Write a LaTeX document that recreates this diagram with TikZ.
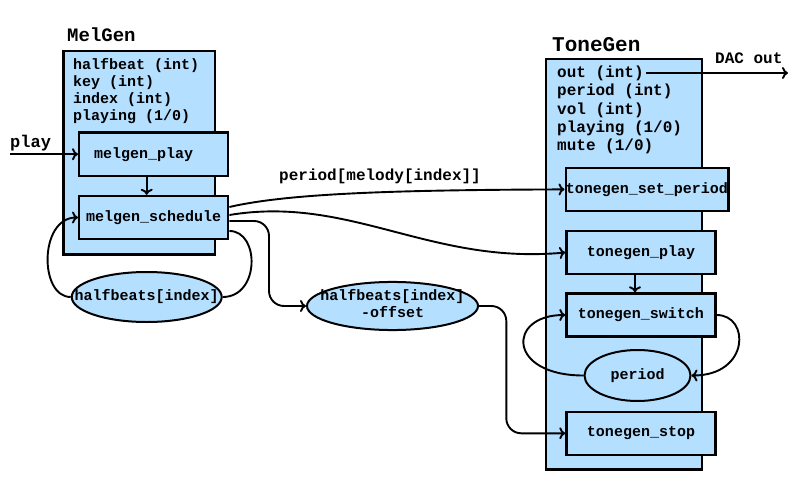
\documentclass[tikz,border=0pt]{standalone}
\usepackage{fontspec}
\setmonofont{Liberation Mono}
\usetikzlibrary{arrows.meta,shapes.geometric}
\definecolor{boxblue}{RGB}{180,223,255}
\tikzset{
  txt/.style={font=\ttfamily\bfseries\fontsize{15}{17}\selectfont},
  container/.style={draw,line width=2.4pt,fill=boxblue,inner sep=0pt},
  func/.style={draw,line width=2.4pt,fill=boxblue,inner sep=0pt,minimum width=149pt,minimum height=43pt,txt},
  var/.style={ellipse,draw,line width=2pt,fill=boxblue,inner sep=0pt,txt},
  conn/.style={line width=1.9pt,-{To[length=6pt,width=12pt]}},
  wire/.style={line width=1.9pt},
  title/.style={font=\ttfamily\bfseries\fontsize{19}{21}\selectfont,inner sep=0pt,anchor=base west},
  lbl/.style={font=\ttfamily\bfseries\fontsize{16}{18}\selectfont,inner sep=0pt,anchor=base west},
  attrs/.style={inner sep=0pt,anchor=base west},
}
\begin{document}
\begin{tikzpicture}[x=1pt,y=-1pt]
\useasboundingbox (0,0) rectangle (800,500);
% containers
\node[container,minimum width=151.7pt,minimum height=203.3pt] (melgen) at (139.2,152.7) {};
\node[container,minimum width=156pt,minimum height=410.3pt] (tonegen) at (624,264.2) {};
\node[title] (melgentitle) at (67,42) {MelGen};
\node[title,font=\ttfamily\bfseries\fontsize{21}{23}\selectfont] (tonegentitle) at (552,52) {ToneGen};
\node[attrs,font=\ttfamily\bfseries\fontsize{15}{16.7}\selectfont] (melvars) at (73,70)
  {\begin{tabular}[t]{@{}l@{}}halfbeat (int)\\key (int)\\index (int)\\playing (1/0)\end{tabular}};
\node[attrs,font=\ttfamily\bfseries\fontsize{16}{18.3}\selectfont] (tonevars) at (557,77.5)
  {\begin{tabular}[t]{@{}l@{}}out (int)\\period (int)\\vol (int)\\playing (1/0)\\mute (1/0)\end{tabular}};
% functions
\node[func] (mplay) at (153.7,154.2) {\hspace*{-20pt}melgen\_play};
\node[func] (msched) at (153.7,217.5) {melgen\_schedule};
\node[func,minimum width=162.6pt] (tsetp) at (647,189.4) {tonegen\_set\_period};
\node[func] (tplay) at (641,252.5) {tonegen\_play};
\node[func] (tswitch) at (641,315) {tonegen\_switch};
\node[func] (tstop) at (641,433.3) {tonegen\_stop};
% variables
\node[var,minimum width=150pt,minimum height=50pt] (hb) at (146.7,297) {\makebox[0pt]{halfbeats[index]}};
\node[var,minimum width=171pt,minimum height=48pt] (hbo) at (392.5,306)
  {\makebox[0pt]{\begin{tabular}{@{}c@{}}halfbeats[index]\\-offset\end{tabular}}};
\node[var,minimum width=106pt,minimum height=51pt] (per) at (637.5,375.5) {\makebox[0pt]{period}};
% labels
\node[lbl,font=\ttfamily\bfseries\fontsize{17}{19}\selectfont] (playlbl) at (10,147) {play};
\node[lbl] (daclbl) at (715,64) {DAC out};
\node[lbl] (perlbl) at (279,180) {period[melody[index]]};
% free ends
\coordinate (playstart) at (10,154.2);
\coordinate (outstart) at (646,73);
\coordinate (dacend) at (788,73);
% connectors
\draw[conn] (playstart) -- (mplay.west);
\draw[conn] ([xshift=-7pt]mplay.south) -- ([xshift=-7pt]msched.north);
\draw[wire] ([yshift=-13.5pt]msched.east) .. controls (260,231) and (260,297) .. (hb.east);
\draw[conn] (hb.west) .. controls (39,297) and (39,217.5) .. (msched.west);
\draw[conn] ([yshift=10.5pt]msched.east) .. controls (290,193) and (400,190) .. (tsetp.west);
\draw[conn] ([yshift=2.5pt]msched.east) .. controls (350,195) and (430,265) .. (tplay.west);
\draw[conn,rounded corners=15pt] ([yshift=-3.5pt]msched.east) -| ([xshift=-37pt]hbo.west) -- (hbo.west);
\draw[conn,rounded corners=15pt] (hbo.east) -| ([xshift=-59pt]tstop.west) -- (tstop.west);
\draw[conn] ([xshift=-6pt]tplay.south) -- ([xshift=-6pt]tswitch.north);
\draw[conn] (tswitch.east) .. controls (750,315) and (750,375.5) .. (per.east);
\draw[conn] (per.west) .. controls (507,375.5) and (507,315) .. (tswitch.west);
\draw[conn] (outstart) -- (dacend);
\end{tikzpicture}
\end{document}
